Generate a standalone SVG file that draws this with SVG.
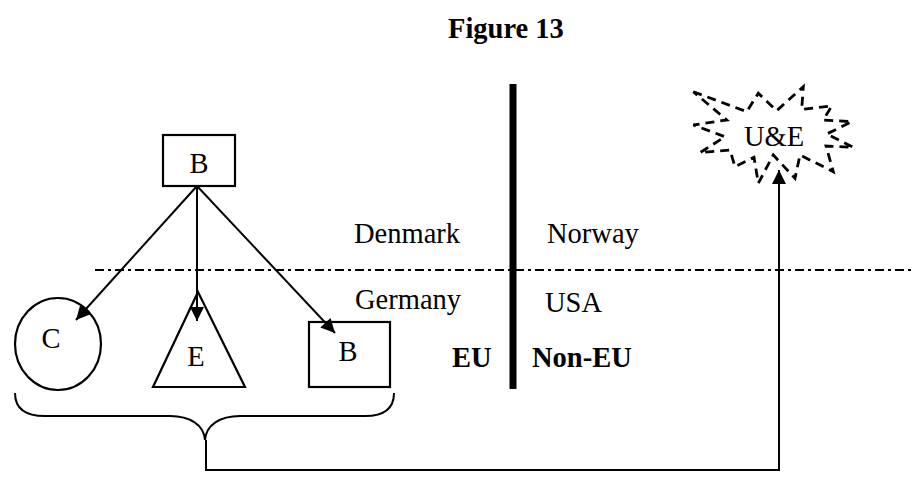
<svg xmlns="http://www.w3.org/2000/svg" width="914" height="487" viewBox="0 0 914 487">
<style>
text{font-family:"Liberation Serif","Times New Roman",serif;font-size:28.5px;fill:#000}
.b{font-weight:bold}
.ln{stroke:#000;stroke-width:2;fill:none}
.sh{stroke:#000;stroke-width:2.2;fill:#fff}
</style>
<defs>
<marker id="ah" viewBox="0 0 10 10" refX="10" refY="5" markerWidth="17" markerHeight="14" markerUnits="userSpaceOnUse" orient="auto">
<path d="M0,0 L10,5 L0,10 z" fill="#000"/>
</marker>
</defs>
<rect width="914" height="487" fill="#fff"/>
<text class="b" x="448" y="38">Figure 13</text>
<g id="divider">
<line x1="95" y1="270" x2="914" y2="270" stroke="#000" stroke-width="2" stroke-dasharray="9 4 3 4"/>
<line x1="513" y1="84" x2="513" y2="389" stroke="#000" stroke-width="7"/>
</g>
<g id="labels">
<text x="354" y="243">Denmark</text>
<text x="547" y="243">Norway</text>
<text x="355" y="309">Germany</text>
<text x="545" y="312">USA</text>
<text class="b" x="452" y="367">EU</text>
<text class="b" x="532" y="367">Non-EU</text>
</g>
<g id="nodeB1">
<rect class="sh" x="163" y="135" width="72" height="51"/>
<text x="199" y="173" text-anchor="middle">B</text>
</g>
<g id="nodeC">
<ellipse class="sh" cx="58" cy="344" rx="43" ry="46"/>
<text x="51" y="348" text-anchor="middle">C</text>
</g>
<g id="nodeE">
<polygon class="sh" points="198,292 153,387 245,387"/>
<text x="196" y="366" text-anchor="middle">E</text>
</g>
<g id="nodeB2">
<rect class="sh" x="309" y="322" width="81" height="65"/>
<text x="348" y="361" text-anchor="middle">B</text>
</g>
<g id="nodeUE">
<polygon points="693.3,91.7 746.7,111.7 758.3,93.3 776.7,110.7 803.3,86.7 801.7,109.3 831.7,106 823.3,120 851.7,121.7 826.7,134 853.3,147.3 826,146 833.3,171.7 800,155 795,178.3 773.3,155 758.3,183.3 754,157.3 735,166.7 730,150 700,152.7 725,136.7 693.3,125 726.7,120" fill="#fff" stroke="#000" stroke-width="2.8" stroke-dasharray="9 6"/>
<text x="774" y="146" text-anchor="middle">U&amp;E</text>
</g>
<g id="connectors">
<line class="ln" x1="197" y1="186" x2="76" y2="320" marker-end="url(#ah)"/>
<line class="ln" x1="197" y1="186" x2="197" y2="321" marker-end="url(#ah)"/>
<line class="ln" x1="197" y1="186" x2="335" y2="333" marker-end="url(#ah)"/>
<path class="ln" d="M15,393 C15,408 25,416 45,416 L170,416 C190,416 204,425 205,440 C206,425 220,416 240,416 L365,416 C385,416 394,408 394,393"/>
<polyline class="ln" points="206,440 206,470 779,470 779,186"/>
<line class="ln" x1="779" y1="190" x2="779" y2="170" marker-end="url(#ah)"/>
</g>
</svg>
